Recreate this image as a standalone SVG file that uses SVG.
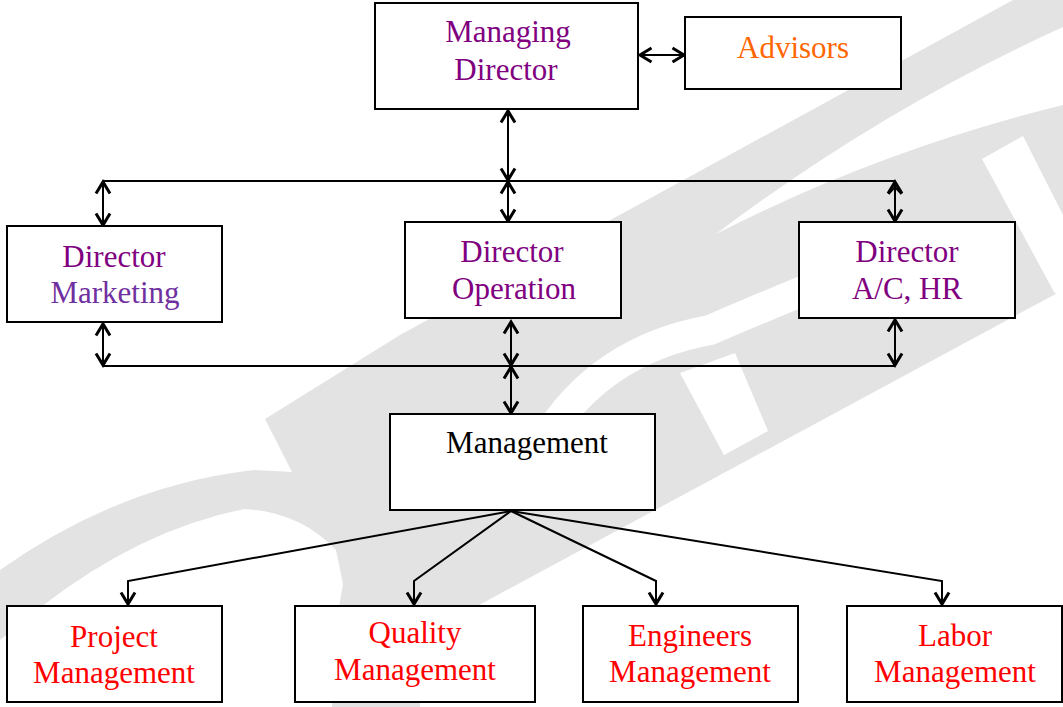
<svg xmlns="http://www.w3.org/2000/svg" width="1063" height="707" viewBox="0 0 1063 707">
<style>
.box{fill:#fff;stroke:#000;stroke-width:2}
.ln{fill:none;stroke:#000;stroke-width:2}
.t{font-family:"Liberation Serif","Times New Roman",serif;font-size:31px;text-anchor:middle}
.pur{fill:#800080}
.mkt{fill:#7030a0}
.org{fill:#ff6600}
.red{fill:#ff0000}
.blk{fill:#000}
.wm{fill:#e3e3e3}
.wc{fill:#fff}
</style>
<defs>
<marker id="ah" markerUnits="userSpaceOnUse" markerWidth="20" markerHeight="20" refX="12" refY="7.5" orient="auto-start-reverse" viewBox="-2 -2 20 20">
<path d="M0.5,0.5 L12,7.5 L0.5,14.5" fill="none" stroke="#000" stroke-width="3"/>
</marker>
</defs>
<rect width="1063" height="707" fill="#fff"/>
<g id="watermark">
<path class="wm" d="M265,419 L400,335 L1013,0 L1063,0 L1063,290 L531,577 L470,610 L420,640 L420,707 L332,707 L336,624 L343,584 L336,550 Q300,512 244,509 Q140,530 41,607 L0,640 L0,570 Q120,485 254,470 L292,472 Z"/>
<path class="wc" d="M716,234 Q880,110 1063,27 L1063,105 Q880,150 716,234 Z"/>
<path class="wc" d="M982,159 L1023,136 L1063,215 L1063,300 L1054,292 Z"/>
<path class="wc" d="M680,373 L724,455 L768,431 L735,353 Z"/>
<path d="M545,440 Q600,350 710,330 Q780,300 830,280" fill="none" stroke="#fff" stroke-width="30"/>
</g>
<g id="connectors">
<line class="ln" x1="640" y1="55" x2="684" y2="55" marker-start="url(#ah)" marker-end="url(#ah)"/>
<line class="ln" x1="508" y1="111" x2="508" y2="180" marker-start="url(#ah)" marker-end="url(#ah)"/>
<line class="ln" x1="103" y1="181" x2="895" y2="181"/>
<line class="ln" x1="103" y1="182" x2="103" y2="225" marker-start="url(#ah)" marker-end="url(#ah)"/>
<line class="ln" x1="508" y1="182" x2="508" y2="221" marker-start="url(#ah)" marker-end="url(#ah)"/>
<line class="ln" x1="895" y1="182" x2="895" y2="221" marker-start="url(#ah)" marker-end="url(#ah)"/>
<path class="ln" d="M888.5,194 L895,187 L901.5,194" stroke-width="3"/>
<line class="ln" x1="103" y1="324" x2="103" y2="365" marker-start="url(#ah)" marker-end="url(#ah)"/>
<line class="ln" x1="511" y1="322" x2="511" y2="365" marker-start="url(#ah)" marker-end="url(#ah)"/>
<line class="ln" x1="895" y1="320" x2="895" y2="365" marker-start="url(#ah)" marker-end="url(#ah)"/>
<line class="ln" x1="103" y1="366" x2="895" y2="366"/>
<line class="ln" x1="511" y1="367" x2="511" y2="413" marker-start="url(#ah)" marker-end="url(#ah)"/>
<polyline class="ln" points="511,511 128,581 128,604" marker-end="url(#ah)"/>
<polyline class="ln" points="511,511 414,581 414,604" marker-end="url(#ah)"/>
<polyline class="ln" points="511,511 656,581 656,604" marker-end="url(#ah)"/>
<polyline class="ln" points="511,511 942,581 942,604" marker-end="url(#ah)"/>
<rect x="630" y="41" width="2" height="2" fill="#000"/>
</g>
<g id="managing-director">
<rect class="box" x="375" y="3" width="263" height="106"/>
<text class="t pur" x="508" y="42">Managing</text>
<text class="t pur" x="506" y="80">Director</text>
</g>
<g id="advisors">
<rect class="box" x="685" y="17" width="216" height="72"/>
<text class="t org" x="793" y="58">Advisors</text>
</g>
<g id="director-marketing">
<rect class="box" x="7" y="226" width="215" height="96"/>
<text class="t pur" x="114" y="267">Director</text>
<text class="t mkt" x="115" y="303">Marketing</text>
</g>
<g id="director-operation">
<rect class="box" x="405" y="222" width="216" height="96"/>
<text class="t pur" x="512" y="262">Director</text>
<text class="t pur" x="514" y="299">Operation</text>
</g>
<g id="director-ac-hr">
<rect class="box" x="799" y="222" width="216" height="96"/>
<text class="t pur" x="907" y="262">Director</text>
<text class="t pur" x="907" y="299">A/C, HR</text>
</g>
<g id="management">
<rect class="box" x="390" y="414" width="265" height="96"/>
<text class="t blk" x="527" y="453">Management</text>
</g>
<g id="project-management">
<rect class="box" x="7" y="606" width="215" height="96"/>
<text class="t red" x="114" y="647">Project</text>
<text class="t red" x="114" y="683">Management</text>
</g>
<g id="quality-management">
<rect class="box" x="295" y="606" width="240" height="96"/>
<text class="t red" x="415" y="643">Quality</text>
<text class="t red" x="415" y="680">Management</text>
</g>
<g id="engineers-management">
<rect class="box" x="583" y="606" width="215" height="96"/>
<text class="t red" x="690" y="646">Engineers</text>
<text class="t red" x="690" y="682">Management</text>
</g>
<g id="labor-management">
<rect class="box" x="847" y="606" width="215" height="96"/>
<text class="t red" x="955" y="646">Labor</text>
<text class="t red" x="955" y="682">Management</text>
</g>
</svg>
